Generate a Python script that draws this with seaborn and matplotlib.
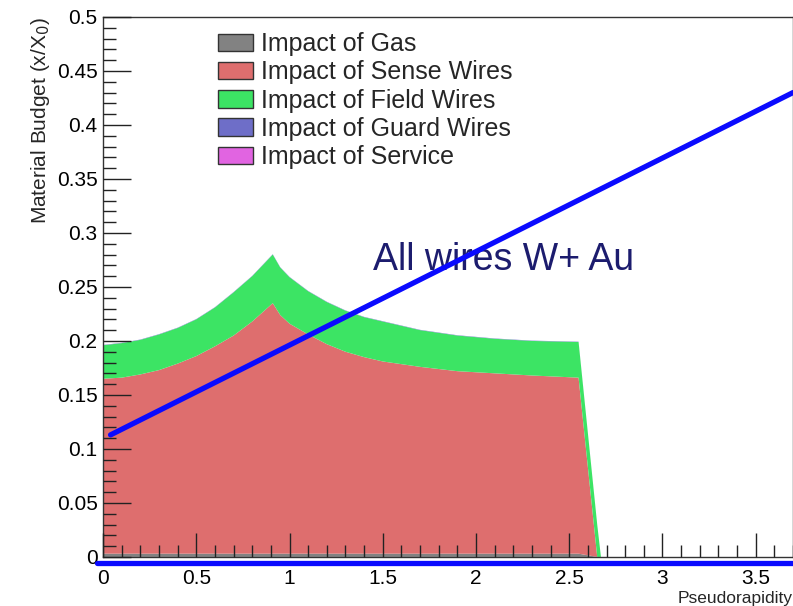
import matplotlib
matplotlib.use("Agg")
import matplotlib.pyplot as plt
from matplotlib.ticker import MultipleLocator, FormatStrFormatter
from matplotlib.patches import Patch
import seaborn as sns

sns.set_style("ticks")
plt.rcParams['font.family'] = ['Liberation Sans', 'DejaVu Sans']

# pseudorapidity sampling of the stacked material budget
eta = [0.0, 0.1, 0.2, 0.3, 0.4, 0.5, 0.6, 0.7, 0.8, 0.91, 0.95, 1.0, 1.1, 1.2,
       1.3, 1.4, 1.5, 1.7, 1.9, 2.1, 2.3, 2.55, 2.65, 2.67]
gas = [0.003] * 22 + [0.0, 0.0]
sense = [0.162, 0.163, 0.166, 0.170, 0.176, 0.183, 0.192, 0.202, 0.215, 0.232, 0.221, 0.213,
         0.203, 0.194, 0.187, 0.182, 0.178, 0.173, 0.169, 0.167, 0.165, 0.163, 0.0, 0.0]
field = [0.031, 0.032, 0.032, 0.033, 0.033, 0.034, 0.036, 0.040, 0.042, 0.045, 0.044, 0.043,
         0.040, 0.039, 0.038, 0.037, 0.037, 0.034, 0.033, 0.032, 0.032, 0.033, 0.030, 0.0]
guard = [0.0003] * 22 + [0.0, 0.0]
service = [0.0] * 24

labels = ["Impact of Gas", "Impact of Sense Wires", "Impact of Field Wires",
          "Impact of Guard Wires", "Impact of Service"]
colors = ["#828282", "#de6e6e", "#3ce464", "#6e6ec8", "#e164e1"]

# overlay annotation line
line_x = [0.04, 3.70]
line_y = [0.113, 0.430]

fig = plt.figure(figsize=(7.93, 6.06), dpi=100)
ax = fig.add_axes([0.130, 0.081, 0.870, 0.891])
ax.set_axisbelow(False)

polys = ax.stackplot(eta, gas, sense, field, guard, service, colors=colors, linewidth=0)
for p in polys:
    p.set_edgecolor("none")

sns.lineplot(x=line_x, y=line_y, ax=ax, color="#0a0aff", linewidth=3.8, zorder=5)
ax.plot([-0.009, 1.0], [-0.011, -0.011], transform=ax.transAxes, color="#0a0aff",
        linewidth=3.8, clip_on=False, zorder=6)

ax.text(1.446, 0.275, "All wires W+ Au", fontsize=27, color="#1c1c6e", va="center", ha="left")

ax.set_xlim(0, 3.70)
ax.set_ylim(0, 0.5)
ax.xaxis.set_major_locator(MultipleLocator(0.5))
ax.xaxis.set_minor_locator(MultipleLocator(0.1))
ax.yaxis.set_major_locator(MultipleLocator(0.05))
ax.yaxis.set_minor_locator(MultipleLocator(0.01))
ax.xaxis.set_major_formatter(FormatStrFormatter("%g"))
ax.yaxis.set_major_formatter(FormatStrFormatter("%g"))
ax.tick_params(axis="both", which="both", direction="in", colors="#222222", labelcolor="black")
ax.tick_params(axis="x", which="major", length=17, width=1, pad=9, labelsize=15)
ax.tick_params(axis="x", which="minor", length=9, width=1)
ax.tick_params(axis="y", which="major", length=20, width=1, pad=4, labelsize=15)
ax.tick_params(axis="y", which="minor", length=9, width=1)
for s in ax.spines.values():
    s.set_color("#333333")
    s.set_linewidth(1)

ax.set_xlabel("Pseudorapidity", loc="right", fontsize=12.5, labelpad=2)
ax.set_ylabel("Material Budget (x/X$_0$)", loc="top", fontsize=15, labelpad=3)

handles = [Patch(facecolor=c, edgecolor="#333333", linewidth=1, label=l)
           for c, l in zip(colors, labels)]
ax.legend(handles=handles, loc="upper left", bbox_to_anchor=(0.167, 0.972), frameon=False,
          fontsize=18, handlelength=1.4, handleheight=0.7, handletextpad=0.3,
          labelspacing=0.17, borderaxespad=0, borderpad=0)

fig.savefig("out.png", dpi=100)
